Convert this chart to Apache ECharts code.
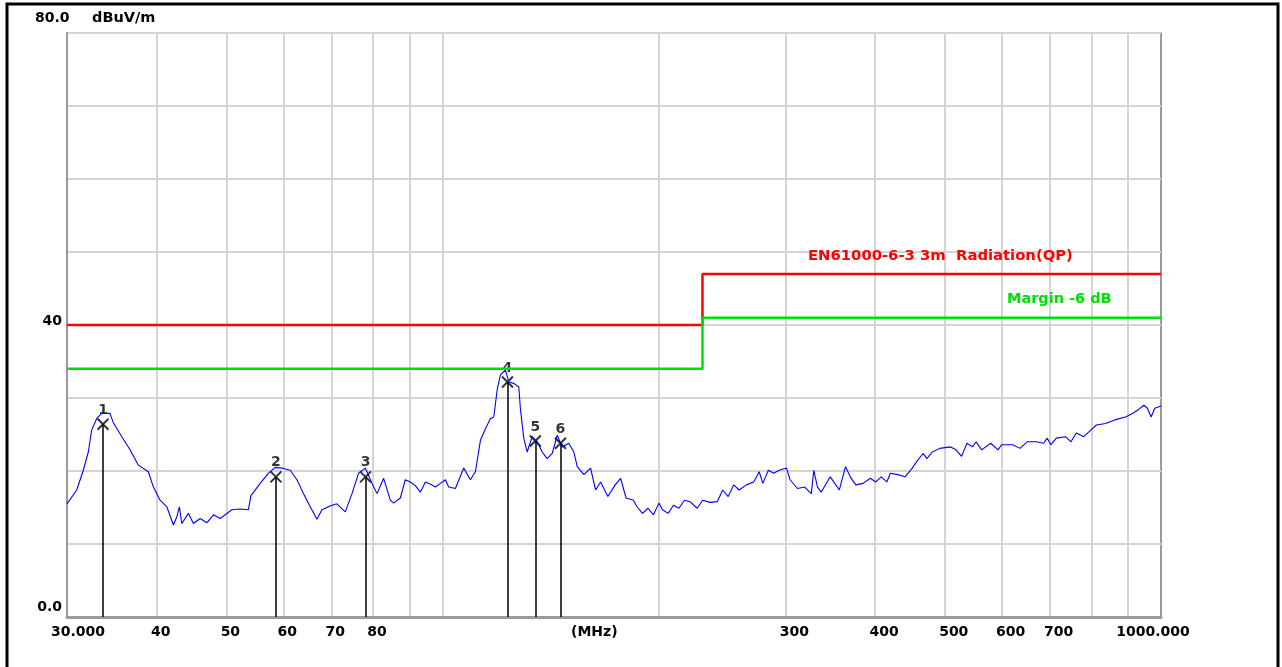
<!DOCTYPE html>
<html><head><meta charset="utf-8">
<script src="https://cdn.jsdelivr.net/npm/echarts@6/dist/echarts.min.js"></script>
<style>html,body{margin:0;padding:0;background:#fff}#c{width:1282px;height:667px}</style>
</head><body><div id="c"></div><script>
// Measured trace (MHz, dBuV/m)
const traceFreq = [30.00,30.95,31.61,32.12,32.47,33.00,33.53,34.43,34.80,35.76,36.72,37.71,38.94,39.57,40.43,41.31,42.19,42.65,43.01,43.34,44.27,44.99,45.97,46.97,47.97,49.01,50.89,52.26,53.67,54.08,55.72,57.23,58.47,59.74,61.35,62.69,64.03,65.42,66.84,67.92,69.71,71.22,73.20,74.79,76.39,78.05,79.75,81.04,82.77,84.57,85.47,87.32,88.73,90.17,91.63,93.11,94.62,96.15,97.70,99.28,100.89,101.96,104.18,106.99,109.31,111.08,112.88,114.71,116.57,117.81,119.10,120.37,122.31,123.62,125.62,127.65,128.35,129.71,131.13,133.25,135.41,137.60,139.83,142.09,144.39,146.72,149.86,152.29,153.96,157.25,160.67,163.27,165.91,169.84,173.86,176.90,180.05,184.31,186.45,189.77,193.15,196.53,200.03,202.36,205.96,209.63,213.29,217.09,220.96,226.12,230.14,235.59,241.17,245.39,249.76,254.20,258.65,264.78,271.04,275.87,279.07,284.04,289.00,294.09,301.06,304.55,311.77,319.16,325.99,328.61,332.54,336.41,346.38,356.64,363.81,369.35,375.93,384.83,393.94,400.83,407.97,415.24,420.06,429.99,440.18,450.61,458.48,466.65,472.07,480.48,491.87,509.38,518.46,527.70,536.91,546.47,552.83,562.68,579.37,593.09,599.98,621.53,636.26,651.10,670.39,686.25,694.44,702.49,715.01,736.19,749.32,762.40,780.47,794.37,812.92,837.26,862.10,892.77,913.91,930.00,946.59,957.46,968.88,980.15,1000.00];
const traceLevel = [15.5,17.4,20.1,22.6,25.6,27.2,27.9,27.9,26.6,24.7,22.9,20.8,19.9,17.8,16.0,15.1,12.6,13.7,15.1,12.8,14.2,12.8,13.5,12.9,14.0,13.5,14.7,14.8,14.7,16.6,18.3,19.7,20.5,20.4,20.1,18.8,16.9,15.1,13.4,14.7,15.2,15.5,14.4,16.9,19.7,20.4,18.3,16.9,19.0,16.0,15.6,16.3,18.8,18.5,18.0,17.1,18.5,18.2,17.8,18.3,18.8,17.8,17.6,20.4,18.8,19.9,24.2,25.8,27.2,27.4,31.1,33.2,33.8,32.2,32.0,31.5,28.4,24.5,22.6,24.7,24.0,22.6,21.7,22.4,24.9,23.3,23.8,22.6,20.6,19.5,20.4,17.4,18.5,16.5,18.1,19.0,16.3,16.0,15.1,14.2,14.9,14.0,15.6,14.7,14.2,15.3,14.9,16.0,15.8,14.9,16.0,15.7,15.8,17.4,16.5,18.1,17.4,18.1,18.5,19.9,18.3,20.1,19.7,20.1,20.4,18.8,17.6,17.8,16.9,20.1,17.8,17.1,19.2,17.4,20.6,19.2,18.1,18.3,19.0,18.5,19.2,18.5,19.7,19.5,19.2,20.4,21.5,22.4,21.7,22.6,23.1,23.3,22.9,22.0,23.8,23.3,24.0,22.9,23.8,22.9,23.6,23.6,23.1,24.0,24.0,23.8,24.5,23.6,24.5,24.7,24.0,25.2,24.7,25.4,26.3,26.5,27.0,27.4,27.9,28.4,29.0,28.6,27.4,28.6,28.9];
// Limit lines
const limitFreq = [30, 230, 230, 1000];
const limitLevel = [40, 40, 47, 47];
const marginLevel = [34, 34, 41, 41];
const limitName = 'EN61000-6-3 3m  Radiation(QP)';
const marginName = 'Margin -6 dB';
// Markers
const markerName = ['1', '2', '3', '4', '5', '6'];
const markerFreq = [33.67, 58.6, 78.1, 123.1, 134.6, 145.9];
const markerLevel = [26.4, 19.2, 19.2, 32.2, 24.1, 23.8];
// Axes
const xGridFreq = [40, 50, 60, 70, 80, 90, 100, 200, 300, 400, 500, 600, 700, 800, 900];
const xTickFreq = [30, 40, 50, 60, 70, 80, 300, 400, 500, 600, 700, 1000];
const xTickText = ['30.000', '40', '50', '60', '70', '80', '300', '400', '500', '600', '700', '1000.000'];
const yTickValue = [0, 40, 80];
const yTickText = ['0.0', '40', '80.0'];
const yUnit = 'dBuV/m';
const xUnit = '(MHz)';

const FONT = 'DejaVu Sans';
const chart = echarts.init(document.getElementById('c'), null, {renderer: 'canvas'});
const pairs = (xs, ys) => xs.map((x, i) => [x, ys[i]]);

function xLabel(v) {
  const i = xTickFreq.findIndex(f => Math.abs(f - v) < 1e-6 * f);
  if (i < 0) return '';
  const t = xTickText[i];
  if (i === 0) return '{s|' + t + '}';
  if (i === xTickFreq.length - 1) return '{e|' + t + '}';
  return (t.length === 2 ? '{a|' : '{b|') + t + '}';
}
function yLabel(v) {
  const i = yTickValue.indexOf(v);
  if (i < 0 || v === 80) return '';
  return (v === 0 ? '{z|' : '{f|') + yTickText[i] + '}';
}
const lblBase = {fontFamily: FONT, fontWeight: 'bold', fontSize: 14, color: '#000'};

chart.setOption({
  animation: false,
  backgroundColor: '#fff',
  grid: {left: 67, right: 121, top: 33, bottom: 50, show: true, borderColor: '#9a9a9a', borderWidth: 2, backgroundColor: '#fff', outerBoundsMode: 'none'},
  xAxis: {
    type: 'log', logBase: 10, min: 30, max: 1000,
    axisLine: {show: true, lineStyle: {color: '#9a9a9a', width: 3}},
    axisTick: {show: false, customValues: xGridFreq},
    splitLine: {show: true, lineStyle: {color: '#d4d4d4', width: 2}},
    axisLabel: {
      customValues: xTickFreq, formatter: xLabel, margin: 8,
      rich: {
        a: Object.assign({}, lblBase, {padding: [0, 0, 0, 8]}),
        b: Object.assign({}, lblBase, {padding: [0, 0, 0, 18]}),
        s: Object.assign({}, lblBase, {padding: [0, 0, 0, 22]}),
        e: Object.assign({}, lblBase, {padding: [0, 16, 0, 0]})
      }
    }
  },
  yAxis: {
    type: 'value', min: 0, max: 80, interval: 10,
    axisLine: {show: true, lineStyle: {color: '#9a9a9a', width: 2}},
    axisTick: {show: false},
    splitLine: {show: true, lineStyle: {color: '#d4d4d4', width: 2}},
    axisLabel: {
      formatter: yLabel, margin: 5, showMaxLabel: false,
      rich: {
        z: Object.assign({}, lblBase, {padding: [0, 0, 20, 0]}),
        f: Object.assign({}, lblBase, {padding: [0, 0, 8, 0]})
      }
    }
  },
  graphic: [
    {type: 'rect', z: 100, shape: {x: 7, y: 4, width: 1271, height: 700}, style: {fill: 'none', stroke: '#000', lineWidth: 3}},
    {type: 'text', left: 35, top: 11, style: {text: yTickText[2], font: 'bold 14px "DejaVu Sans"', fill: '#000'}},
    {type: 'text', left: 92, top: 11, style: {text: yUnit, font: 'bold 14.5px "DejaVu Sans"', fill: '#000'}},
    {type: 'text', left: 571, top: 625, style: {text: xUnit, font: 'bold 14px "DejaVu Sans"', fill: '#000'}},
    {type: 'text', left: 808, top: 249, z: 10, style: {text: limitName, font: 'bold 14.8px "DejaVu Sans"', fill: '#ff0000'}},
    {type: 'text', left: 1007, top: 292, z: 10, style: {text: marginName, font: 'bold 14.5px "DejaVu Sans"', fill: '#00e000'}}
  ],
  series: [
    {
      type: 'scatter', z: 2,
      data: pairs(markerFreq, markerLevel),
      symbol: 'path://M0,0L10,10M10,0L0,10', symbolSize: 11,
      itemStyle: {color: 'none', borderColor: '#000', borderWidth: 2},
      label: {show: true, position: 'top', distance: -1, formatter: p => markerName[p.dataIndex], fontFamily: FONT, fontWeight: 'bold', fontSize: 14, color: '#000'},
      markLine: {
        silent: true, symbol: ['none', 'none'], label: {show: false},
        lineStyle: {color: '#000', width: 1.5, type: 'solid'},
        data: markerFreq.map((f, i) => [{coord: [f, 0]}, {coord: [f, markerLevel[i]]}])
      }
    },
    {
      type: 'line', z: 3, data: pairs(traceFreq, traceLevel), showSymbol: false,
      lineStyle: {color: '#0000ff', width: 1.1}
    },
    {
      type: 'line', z: 4, data: pairs(limitFreq, limitLevel), showSymbol: false,
      lineStyle: {color: '#ff0000', width: 2.5}
    },
    {
      type: 'line', z: 5, data: pairs(limitFreq, marginLevel), showSymbol: false,
      lineStyle: {color: '#00e000', width: 2.5}
    }
  ]
});
</script></body></html>
